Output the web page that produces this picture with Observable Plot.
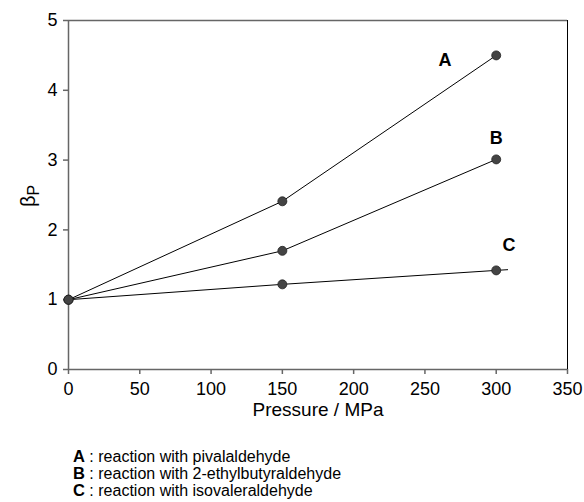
<!DOCTYPE html>
<html>
<head>
<meta charset="utf-8">
<script src="https://cdn.jsdelivr.net/npm/d3@7"></script>
<script src="https://cdn.jsdelivr.net/npm/@observablehq/plot@0.6"></script>
<style>
  body { margin: 0; background: #fff; font-family: "Liberation Sans", Arial, sans-serif; }
</style>
</head>
<body>
<div id="chart"></div>
<script>
// Data
const pressure = [0, 150, 300];
const seriesA = [1.0, 2.41, 4.50];
const seriesB = [1.0, 1.70, 3.01];
const seriesC = [1.0, 1.22, 1.42];
// end of the drawn line C (extends slightly beyond last point)
const lineCEnd = { p: 308, b: 1.43 };
const seriesNames = ["A", "B", "C"];
const legendTexts = [
  "reaction with pivalaldehyde",
  "reaction with 2-ethylbutyraldehyde",
  "reaction with isovaleraldehyde"
];
const xTicks = [0, 50, 100, 150, 200, 250, 300, 350];
const yTicks = [0, 1, 2, 3, 4, 5];
// annotation anchors (data space)
const labelAnchors = [
  { name: "A", p: 264, b: 4.43 },
  { name: "B", p: 300, b: 3.31 },
  { name: "C", p: 309, b: 1.78 }
];

const allSeries = [seriesA, seriesB, seriesC];
const points = [];
allSeries.forEach((vals, i) => vals.forEach((v, j) => points.push({ s: seriesNames[i], p: pressure[j], b: v })));
const lines = points.slice();
lines.push({ s: "C", p: lineCEnd.p, b: lineCEnd.b });

const axisColor = "#666";
const font = "Liberation Sans, Arial, sans-serif";
const plot = Plot.plot({
  width: 584,
  height: 502,
  marginLeft: 68,
  marginRight: 17,
  marginTop: 20,
  marginBottom: 133,
  style: { fontFamily: font, fontSize: "18px", background: "#fff", overflow: "visible", color: "#000" },
  x: { domain: [0, 350], ticks: xTicks, tickFormat: "d", label: null },
  y: { domain: [0, 5], ticks: yTicks, tickFormat: "d", label: null },
  marks: [
    Plot.ruleY([5], { stroke: axisColor, strokeWidth: 1.5 }),
    Plot.ruleX([350], { stroke: "#000", strokeWidth: 1 }),
    Plot.ruleY([0], { stroke: axisColor, strokeWidth: 1.5 }),
    Plot.ruleX([0], { stroke: axisColor, strokeWidth: 1.5 }),
    Plot.axisX({ ticks: xTicks, tickFormat: "d", tickSize: 5, tickPadding: 8, fontSize: 18, stroke: axisColor, fill: "#000", strokeWidth: 1.5, label: null }),
    Plot.axisY({ ticks: yTicks, tickFormat: "d", tickSize: 5, tickPadding: 6, fontSize: 18, stroke: axisColor, fill: "#000", strokeWidth: 1.5, label: null }),
    Plot.line(lines, { x: "p", y: "b", z: "s", stroke: "#000", strokeWidth: 1 }),
    Plot.dot(points, { x: "p", y: "b", r: 4.5, fill: "#444", stroke: "#222", strokeWidth: 0.8 }),
    Plot.text(labelAnchors, { x: "p", y: "b", text: "name", fontSize: 18, fontWeight: "bold", fill: "#000" }),
    Plot.text(["Pressure / MPa"], { frameAnchor: "bottom", dy: 46, fontSize: 19, fill: "#000" })
  ]
});

const svg = d3.select(plot);
// tick label size
svg.selectAll("g[aria-label$='tick label']").attr("font-size", 18).style("font-size", "18px");
svg.selectAll("g[aria-label$='tick label'] text").style("font-size", "18px");

// y axis label with subscript
const yl = svg.append("text")
  .attr("transform", "translate(35,196) rotate(-90)")
  .attr("text-anchor", "middle")
  .attr("font-size", 20)
  .attr("font-family", font)
  .attr("fill", "#000");
yl.append("tspan").text("β");
yl.append("tspan").attr("font-size", 16).attr("dy", 4).text("P");

// legend below the chart
const lg = svg.append("g").attr("font-family", font).attr("font-size", 16)
  .attr("fill", "#000").attr("text-anchor", "start");
seriesNames.forEach((n, i) => {
  const t = lg.append("text").attr("x", 73).attr("y", 462 + i * 17).attr("text-anchor", "start");
  t.append("tspan").attr("font-weight", "bold").attr("font-size", 16.5).text(n);
  t.append("tspan").text(" : " + legendTexts[i]);
});

document.getElementById("chart").appendChild(plot);
</script>
</body>
</html>
